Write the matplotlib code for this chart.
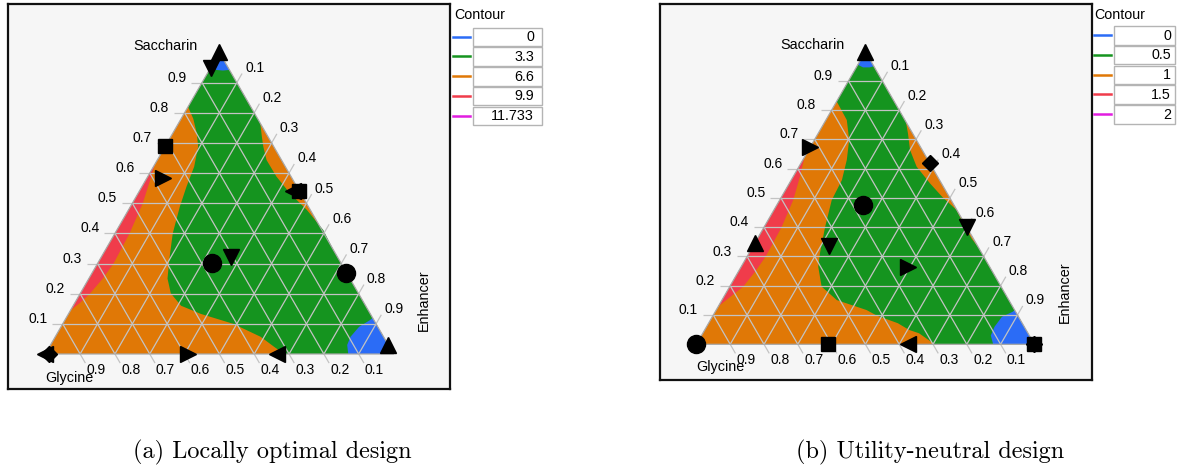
import numpy as np
import matplotlib.pyplot as plt
from matplotlib.patches import Rectangle

plt.rcParams['font.family'] = ['Liberation Sans', 'DejaVu Sans']

# legend / contour levels
levels_a = ['0', '3.3', '6.6', '9.9', '11.733']
levels_b = ['0', '0.5', '1', '1.5', '2']
level_colors = ['#2b6cf6', '#15941f', '#e07806', '#f03c4b', '#e11de0']
tick_labels = ['0.1', '0.2', '0.3', '0.4', '0.5', '0.6', '0.7', '0.8', '0.9']
tick_vals = [0.1, 0.2, 0.3, 0.4, 0.5, 0.6, 0.7, 0.8, 0.9]
captions = ['(a) Locally optimal design', '(b) Utility-neutral design']

# contour boundaries, as (saccharin, enhancer) fractions
# panel (a)
a_green_s = [0.82, 0.78, 0.732, 0.688, 0.621, 0.555, 0.489, 0.40, 0.312, 0.25, 0.201, 0.16, 0.133, 0.10, 0.057, 0.024, 0.0]
a_green_e = [0.0, 0.035, 0.069, 0.095, 0.117, 0.128, 0.142, 0.166, 0.200, 0.226, 0.26, 0.31, 0.38, 0.49, 0.59, 0.645, 0.686]
a_lobe_s = [0.765, 0.72, 0.688, 0.643, 0.588, 0.533, 0.478, 0.411, 0.345, 0.30]
a_lobe_e = [0.235, 0.262, 0.282, 0.314, 0.37, 0.436, 0.512, 0.593, 0.655, 0.70]
a_red_s = [0.63, 0.58, 0.50, 0.40, 0.30, 0.25, 0.20, 0.17, 0.145]
a_red_e = [0.0, 0.012, 0.03, 0.042, 0.046, 0.04, 0.028, 0.015, 0.0]
a_blue_s = [0.0, 0.03, 0.057, 0.09, 0.112, 0.12]
a_blue_e = [0.87, 0.852, 0.848, 0.856, 0.876, 0.88]
a_cap_s = [0.955, 0.942, 0.94, 0.942]
a_cap_e = [0.0, 0.02, 0.04, 0.058]

# panel (b)
b_green_s = [0.83, 0.766, 0.698, 0.63, 0.561, 0.493, 0.402, 0.311, 0.265, 0.197, 0.151, 0.117, 0.098, 0.072, 0.049, 0.0376, 0.0]
b_green_e = [0.0, 0.062, 0.103, 0.13, 0.15, 0.154, 0.18, 0.21, 0.228, 0.272, 0.34, 0.445, 0.485, 0.56, 0.605, 0.64, 0.705]
b_lobe_s = [0.76, 0.72, 0.664, 0.607, 0.55, 0.504, 0.459, 0.40, 0.36, 0.33]
b_lobe_e = [0.24, 0.266, 0.30, 0.348, 0.416, 0.475, 0.54, 0.595, 0.635, 0.67]
b_red_s = [0.64, 0.573, 0.493, 0.40, 0.30, 0.25, 0.197, 0.163, 0.13]
b_red_e = [0.0, 0.02, 0.04, 0.052, 0.055, 0.05, 0.04, 0.02, 0.0]
b_blue_s = [0.0, 0.03, 0.06, 0.094, 0.111, 0.117]
b_blue_e = [0.878, 0.856, 0.852, 0.857, 0.88, 0.883]
b_cap_s = [0.955, 0.946, 0.946, 0.95]
b_cap_e = [0.0, 0.02, 0.04, 0.05]

# design points
a_mk = ['^', 'v', 's', '>', 's', '<', 'o', 'v', 'o', '^', '<', 'D', '>', '<']
a_pt_s = [1.0, 0.95, 0.69, 0.585, 0.54, 0.54, 0.303, 0.323, 0.27, 0.03, 0.0, 0.0, 0.0, 0.0]
a_pt_e = [0.0, 0.0, 0.0, 0.045, 0.46, 0.44, 0.328, 0.372, 0.73, 0.97, 0.0, 0.012, 0.41, 0.665]
b_mk = ['^', '>', 'D', 'o', 'v', '^', 'v', '>', 'o', 's', '<', 's', 'D']
b_pt_s = [1.0, 0.675, 0.62, 0.477, 0.40, 0.345, 0.335, 0.265, 0.0, 0.0, 0.0, 0.0, 0.0]
b_pt_e = [0.0, 0.0, 0.38, 0.253, 0.60, 0.0, 0.226, 0.495, 0.0, 0.39, 0.627, 1.0, 1.0]

mk_size = {'o': 13, '^': 11, 'v': 11, '<': 11, '>': 11, 's': 10, 'D': 8.5}
H = np.sqrt(3) / 2


def tern(s, e):
    s = np.asarray(s, float)
    e = np.asarray(e, float)
    return e + s / 2, s * H


W, HGT, DPI = 1184, 467, 100
fig = plt.figure(figsize=(W / DPI, HGT / DPI), dpi=DPI)


def px_axes(x0, y0, x1, y1):
    # pixel box (top-left origin) -> axes
    return fig.add_axes([x0 / W, 1 - y1 / HGT, (x1 - x0) / W, (y1 - y0) / HGT])


def panel(frame, origin, side, green, lobe, red, blue, cap, pts, label_off):
    fx0, fy0, fx1, fy1 = frame
    ox, oy = origin
    ax = px_axes(fx0, fy0, fx1, fy1)
    ax.set_xlim((fx0 - ox) / side, (fx1 - ox) / side)
    ax.set_ylim((oy - fy1) / side, (oy - fy0) / side)
    ax.set_facecolor('#f6f6f6')
    ax.set_xticks([])
    ax.set_yticks([])
    for sp in ax.spines.values():
        sp.set_linewidth(1.6)
        sp.set_color('#111111')

    # orange base
    x, y = tern([0, 0, 1], [0, 1, 0])
    ax.fill(x, y, color=level_colors[2], lw=0, zorder=1)
    # red
    x, y = tern(*red)
    ax.fill(x, y, color=level_colors[3], lw=0, zorder=2)
    # green = left boundary + BR vertex + lobe (reversed) + apex
    gs = list(green[0]) + [0.0] + list(lobe[0][::-1]) + [1.0]
    ge = list(green[1]) + [1.0] + list(lobe[1][::-1]) + [0.0]
    x, y = tern(gs, ge)
    ax.fill(x, y, color=level_colors[1], lw=0, zorder=2)
    # blue regions
    x, y = tern(list(blue[0]) + [0.0], list(blue[1]) + [1.0])
    ax.fill(x, y, color=level_colors[0], lw=0, zorder=3)
    x, y = tern(list(cap[0]) + [1.0], list(cap[1]) + [0.0])
    ax.fill(x, y, color=level_colors[0], lw=0, zorder=3)

    # grid + ticks
    t = 10.5 / side
    gc = '#c3c3c3'
    kw = dict(color=gc, lw=0.9, zorder=4, solid_capstyle='butt')
    for k, lab in zip(tick_vals, tick_labels):
        # saccharin = k
        x, y = tern([k, k], [0, 1 - k])
        ax.plot([x[0] - t, x[1]], y, **kw)
        ax.annotate(lab, (x[0] - t, y[0]), xytext=(-3.6, 0.7), textcoords='offset points',
                    ha='right', va='baseline', fontsize=10)
        # enhancer = k
        x, y = tern([0, 1 - k], [k, k])
        xe, ye = x[1] + 0.5 * t, y[1] + H * t
        ax.plot([x[0], xe], [y[0], ye], **kw)
        ax.annotate(lab, (xe, ye), xytext=(2.2, 1.1), textcoords='offset points',
                    ha='left', va='baseline', fontsize=10)
        # glycine = k
        x, y = tern([1 - k, 0], [0, 1 - k])
        xe, ye = x[1] + 0.5 * t, y[1] - H * t
        ax.plot([x[0], xe], [y[0], ye], **kw)
        ax.annotate(lab, (xe, ye), xytext=(0.7, 0), textcoords='offset points',
                    ha='left', va='top', fontsize=10)
    x, y = tern([0, 1, 0, 0], [0, 0, 1, 0])
    ax.plot(x, y, color='#a8a8a8', lw=0.9, zorder=4)

    # vertex labels
    ax.annotate('Saccharin', (0.5, H), xytext=label_off[0], textcoords='offset points',
                ha='right', va='center', fontsize=10.4)
    ax.annotate('Glycine', (0, 0), xytext=label_off[1], textcoords='offset points',
                ha='left', va='center', fontsize=10.4)
    ax.annotate('Enhancer', (1, 0), xytext=label_off[2], textcoords='offset points',
                ha='center', va='center', rotation=90, fontsize=10.4)

    # design points
    for m, s, e in zip(*pts):
        x, y = tern(s, e)
        ax.plot(x, y, marker=m, ms=mk_size[m], color='black', ls='none',
                zorder=6, clip_on=False)
    return ax


def legend(x_title, x_line, x_box, box_w, y_rows, labels, pad):
    lax = px_axes(x_title - 5, 0, x_box + box_w + 5, 140)
    lax.set_xlim(x_title - 5, x_box + box_w + 5)
    lax.set_ylim(140, 0)
    lax.axis('off')
    lax.text(x_title, 15, 'Contour', ha='left', va='center', fontsize=10.3)
    for yc, lab, c in zip(y_rows, labels, level_colors):
        lax.plot([x_line, x_line + 17], [yc, yc], color=c, lw=1.8)
        lax.add_patch(Rectangle((x_box, yc - 9), box_w, 18.5, facecolor='white',
                                edgecolor='#b4b4b4', lw=1.0))
        lax.text(x_box + box_w - pad, yc + 0.5, lab, ha='right', va='center', fontsize=10.3)


pa = panel((8, 4, 450, 389), (45.3, 354.0), 348.2,
           (a_green_s, a_green_e), (a_lobe_s, a_lobe_e), (a_red_s, a_red_e),
           (a_blue_s, a_blue_e), (a_cap_s, a_cap_e), (a_mk, a_pt_s, a_pt_e),
           [(-15.8, 4.3), (0, -17.0), (22.0, 38.8)])
pb = panel((660, 4, 1092, 380), (696.4, 344.3), 338.0,
           (b_green_s, b_green_e), (b_lobe_s, b_lobe_e), (b_red_s, b_red_e),
           (b_blue_s, b_blue_e), (b_cap_s, b_cap_e), (b_mk, b_pt_s, b_pt_e),
           [(-14.7, 4.5), (0, -16.0), (22.0, 37.5)])

legend(454, 453, 473, 69, [36.7, 56.4, 76.1, 95.8, 115.5], levels_a, 8)
legend(1094, 1094, 1114, 61, [35.0, 54.8, 74.6, 94.4, 114.2], levels_b, 4)

fig.text(272.5 / W, 1 - 458 / HGT, captions[0], ha='center', va='baseline',
         family='cmr10', fontsize=17.5)
fig.text(930 / W, 1 - 458 / HGT, captions[1], ha='center', va='baseline',
         family='cmr10', fontsize=17.5)

fig.savefig('out.png', dpi=DPI)
